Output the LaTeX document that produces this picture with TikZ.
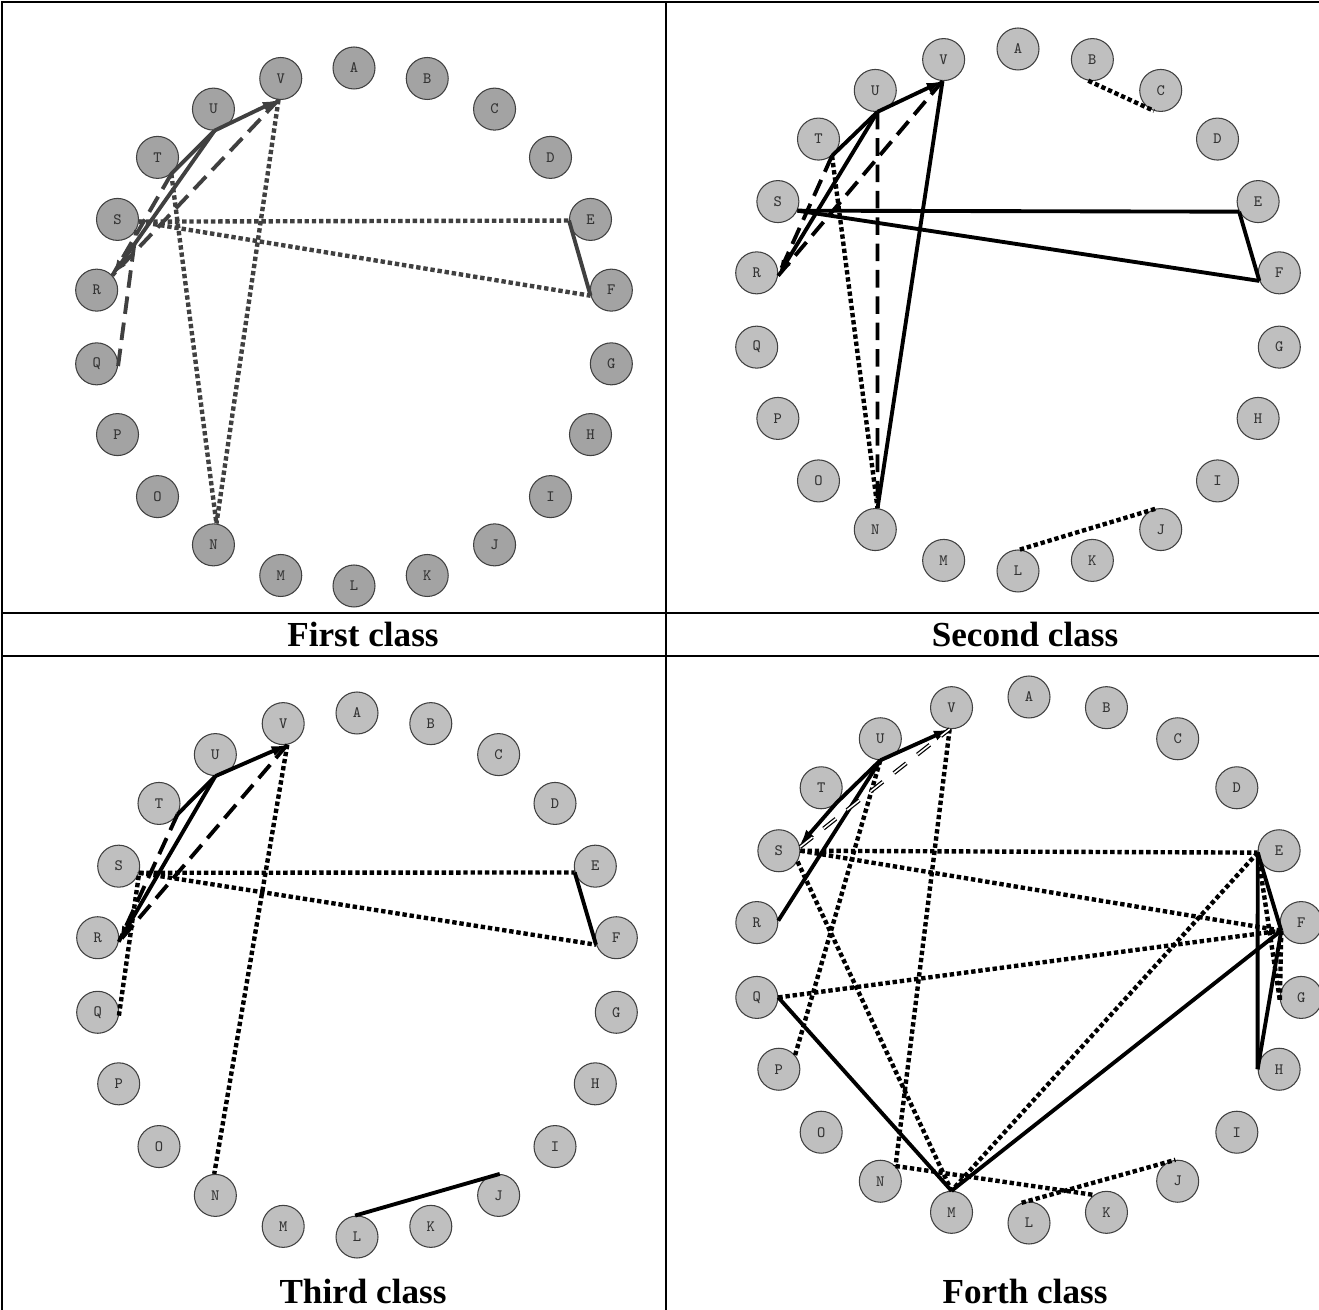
\documentclass[tikz,border=0pt]{standalone}
\usepackage{fontspec}
\setmainfont{Liberation Serif}
\usetikzlibrary{arrows.meta}
\begin{document}
\begin{tikzpicture}[x=0.02cm,y=-0.02cm,
  vtx/.style={circle,draw=black!75,line width=0.6pt,minimum size=0.84cm,inner sep=0pt,
    font=\ttfamily\fontsize{9}{9}\selectfont,text=black!80},
  vtxA/.style={vtx,fill=black!36},
  vtxB/.style={vtx,fill=black!25},
  solln/.style={line width=2.2pt},
  dshln/.style={line width=2.2pt,dash pattern=on 10pt off 5pt},
  dotln/.style={line width=2.5pt,dash pattern=on 2.5pt off 1.6pt},
  dblln/.style={line width=0.7pt,double=white,double distance=0.9pt,dash pattern=on 9pt off 8pt},
  panelone/.style={draw=black!75},
  arrowend/.style={-{Latex[length=9pt,width=6pt]}},
  tablerule/.style={line width=1.6pt},
  captxt/.style={font=\bfseries\fontsize{20}{20}\selectfont}
]
\useasboundingbox (0,0) rectangle (1319,1310);
% table
\draw[tablerule] (2,1310) -- (2,2) -- (1319,2);
\draw[tablerule] (666,2) -- (666,1310);
\draw[tablerule] (2,613) -- (1319,613);
\draw[tablerule] (2,656) -- (1319,656);
\node[captxt] (cap1) at (363,634) {First class};
\node[captxt] (cap2) at (1025,634) {Second class};
\node[captxt] (cap3) at (363,1291) {Third class};
\node[captxt] (cap4) at (1025,1291) {Forth class};
% nodes
\foreach \L [count=\i from 0] in {A,B,C,D,E,F,G,H,I,J,K,L,M,N,O,P,Q,R,S,T,U,V} {
  \pgfmathsetmacro\ang{90-\i*360/22}
  \node[vtxA] (p1\L) at ({354+260*cos(\ang)},{327-259*sin(\ang)}) {\L};
  \node[vtxB] (p2\L) at ({1018+264*cos(\ang)},{310-261*sin(\ang)}) {\L};
  \node[vtxB] (p3\L) at ({357+262*cos(\ang)},{975-262*sin(\ang)}) {\L};
  \node[vtxB] (p4\L) at ({1029+275*cos(\ang)},{960-263*sin(\ang)}) {\L};
}
% ---------- panel 1
\begin{scope}[panelone]
\draw[dotln] (p1S.354) -- (p1E.183);
\draw[dotln] (p1S.354) -- (p1F.195);
\draw[dotln] (p1T.310) -- (p1N.82);
\draw[dotln] (p1V.264) -- (p1N.82);
\draw[solln] (p1E.183) -- (p1F.195);
\draw[solln] (p1T.310) -- (p1U.273);
\draw[solln,arrowend] (p1U.273) -- (p1V.264);
\draw[solln,arrowend] (p1U.273) -- (p1R.43);
\draw[dshln] (p1V.264) -- (p1R.43);
\draw[dshln] (p1T.310) -- (p1R.43);
\draw[dshln] (p1Q.354) -- (p1S.330);
\end{scope}
% ---------- panel 2
\draw[dotln] (p2B.259) -- (p2C.252);
\draw[dotln] (p2L.85) -- (p2J.101);
\draw[dotln] (p2T.309) -- (p2N.84);
\draw[solln] (p2S.335) -- (p2E.208);
\draw[solln] (p2S.335) -- (p2F.202);
\draw[solln] (p2E.208) -- (p2F.202);
\draw[solln] (p2V.267) -- (p2N.84);
\draw[solln] (p2T.309) -- (p2U.276);
\draw[solln,arrowend] (p2U.276) -- (p2V.267);
\draw[solln,arrowend] (p2U.276) -- (p2R.352);
\draw[dshln] (p2U.276) -- (p2N.84);
\draw[dshln] (p2V.267) -- (p2R.352);
\draw[dshln] (p2T.309) -- (p2R.352);
% ---------- panel 3
\draw[dotln] (p3S.342) -- (p3E.197);
\draw[dotln] (p3S.342) -- (p3F.199);
\draw[dotln] (p3V.281) -- (p3N.93);
\draw[dotln] (p3Q.351) -- (p3S.342);
\draw[solln] (p3E.197) -- (p3F.199);
\draw[solln] (p3L.95) -- (p3J.87);
\draw[solln] (p3T.330) -- (p3U.270);
\draw[solln,arrowend] (p3U.270) -- (p3V.281);
\draw[solln,arrowend] (p3U.270) -- (p3R.349);
\draw[dshln] (p3V.281) -- (p3R.349);
\draw[dshln] (p3T.330) -- (p3R.349);
% ---------- panel 4
\draw[dotln] (p4S.0) -- (p4E.185);
\draw[dotln] (p4S.0) -- (p4F.202);
\draw[dotln] (p4Q.0) -- (p4F.202);
\draw[dotln] (p4E.185) -- (p4M.90);
\draw[dotln] (p4S.330) -- (p4M.90);
\draw[dotln] (p4P.41) -- (p4U.270);
\draw[dotln] (p4V.265) -- (p4N.45);
\draw[dotln] (p4N.45) -- (p4K.126);
\draw[dotln] (p4L.110) -- (p4J.96);
\draw[dotln] (p4E.185) -- (p4G.188);
\draw[dotln] (p4F.202) -- (p4G.188);
\draw[solln] (p4E.185) -- (p4F.202);
\draw[solln] (p4E.185) -- (p4H.180);
\draw[solln] (p4F.202) -- (p4H.180);
\draw[solln] (p4Q.0) -- (p4M.90);
\draw[solln] (p4M.90) -- (p4F.202);
\draw[solln] (p4T.315) -- (p4U.270);
\draw[solln,arrowend] (p4U.270) -- (p4V.265);
\draw[solln] (p4R.5) -- (p4U.270);
\draw[solln,arrowend] (p4T.315) -- (p4S.15);
\draw[dblln] (p4S.10) -- (p4V.265);
\end{tikzpicture}
\end{document}
